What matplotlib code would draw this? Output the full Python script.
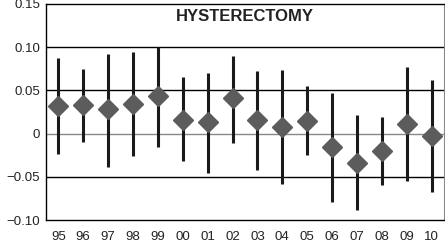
import matplotlib
matplotlib.use("Agg")
import matplotlib.pyplot as plt

years = ["95", "96", "97", "98", "99", "00", "01", "02",
         "03", "04", "05", "06", "07", "08", "09", "10"]
estimate = [0.032, 0.033, 0.028, 0.034, 0.043, 0.016, 0.013, 0.041,
            0.016, 0.008, 0.015, -0.015, -0.034, -0.020, 0.011, -0.003]
upper = [0.088, 0.075, 0.092, 0.094, 0.100, 0.065, 0.070, 0.090,
         0.072, 0.074, 0.055, 0.047, 0.021, 0.019, 0.077, 0.062]
lower = [-0.023, -0.010, -0.039, -0.026, -0.015, -0.032, -0.045, -0.011,
         -0.042, -0.058, -0.025, -0.079, -0.088, -0.060, -0.055, -0.068]

plt.rcParams["font.family"] = ["Liberation Sans", "DejaVu Sans"]

fig = plt.figure(figsize=(4.45, 2.47), dpi=100)
ax = fig.add_axes([0.103, 0.109, 0.895, 0.875])

x = list(range(len(years)))

# horizontal reference lines
for yv in (0.10, 0.05, -0.05):
    ax.axhline(yv, color="black", linewidth=1.0, zorder=1)
ax.axhline(0, color="#888888", linewidth=1.0, zorder=1)

ax.vlines(x, lower, upper, color="#1a1a1a", linewidth=2.2, zorder=2)
ax.plot(x, estimate, linestyle="none", marker="D", markersize=10,
        color="#5c5c5c", markeredgecolor="#5c5c5c", zorder=3)

ax.set_xlim(-0.5, len(years) - 0.5)
ax.set_ylim(-0.10, 0.15)
ax.set_xticks(x)
ax.set_xticklabels(years)
ax.set_yticks([-0.10, -0.05, 0, 0.05, 0.10, 0.15])
ax.set_yticklabels(["\u22120.10", "\u22120.05", "0", "0.05", "0.10", "0.15"])
ax.tick_params(length=0, labelsize=9.5, colors="#222222")
ax.tick_params(axis="x", pad=8)
ax.tick_params(axis="y", pad=4)

for side in ("left", "bottom", "top"):
    ax.spines[side].set_color("black")
    ax.spines[side].set_linewidth(1.0)
ax.spines["right"].set_color("#888888")

ax.text(0.5, 0.975, "HYSTERECTOMY", transform=ax.transAxes, ha="center",
        va="top", fontsize=12, fontweight="bold", color="#222222")

fig.savefig("out.png", dpi=100)
